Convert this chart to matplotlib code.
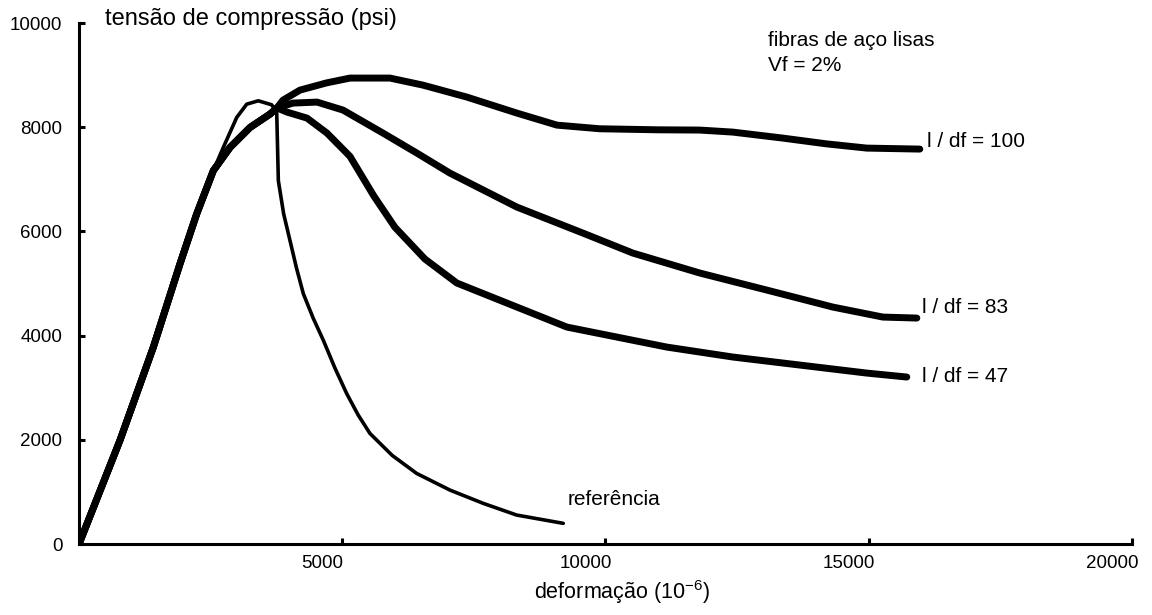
import matplotlib
matplotlib.use("Agg")
import matplotlib.pyplot as plt
from matplotlib.transforms import ScaledTranslation

plt.rcParams["font.family"] = ["Liberation Sans", "DejaVu Sans"]
plt.rcParams["mathtext.fontset"] = "custom"
plt.rcParams["mathtext.rm"] = "Liberation Sans"

# strain (10^-6) / stress (psi) readings for each curve
ref_x = [0, 779, 1412, 1918, 2235, 2551, 2741, 2995, 3185, 3405, 3660, 3755,
         3786, 3887, 4007, 4130, 4261, 4450, 4641, 4860, 5084, 5300, 5527,
         5950, 6413, 7046, 7679, 8313, 9198]
ref_y = [0, 1993, 3780, 5378, 6336, 7166, 7612, 8187, 8442, 8507, 8430, 8283,
         6974, 6336, 5826, 5300, 4803, 4330, 3909, 3380, 2888, 2480, 2121,
         1700, 1355, 1035, 780, 556, 397]

rise_x = [0, 779, 1412, 1918, 2235, 2551, 2868, 3248, 3628, 3760]
rise_y = [0, 1993, 3780, 5378, 6336, 7166, 7612, 7995, 8252, 8370]

f100_x = rise_x + [3875, 4197, 4700, 5147, 5906, 6532, 7367, 8317, 9077, 9893,
                   11000, 11792, 12419, 13368, 14200, 14963, 15970]
f100_y = rise_y + [8520, 8712, 8850, 8943, 8943, 8808, 8578, 8271, 8040, 7970,
                   7950, 7945, 7906, 7791, 7680, 7599, 7580]

f83_x = rise_x + [4064, 4520, 5014, 5774, 6418, 7045, 8317, 9571, 10520, 11792,
                  13064, 14318, 15268, 15914]
f83_y = rise_y + [8463, 8482, 8329, 7887, 7503, 7119, 6467, 5968, 5584, 5201,
                  4874, 4548, 4356, 4337]

f47_x = rise_x + [3950, 4330, 4710, 5147, 5600, 6000, 6570, 7177, 8317, 9267,
                  10216, 11165, 12419, 13691, 14963, 15723]
f47_y = rise_y + [8290, 8175, 7887, 7440, 6680, 6080, 5470, 5009, 4548, 4164,
                  3972, 3780, 3589, 3435, 3281, 3205]

x_ticks = [5000, 10000, 15000, 20000]
y_ticks = [0, 2000, 4000, 6000, 8000, 10000]

fig = plt.figure(figsize=(11.52, 6.15), dpi=100)
ax = fig.add_axes([0.0686, 0.1154, 0.914, 0.8472])

for xs, ys in [(f100_x, f100_y), (f83_x, f83_y), (f47_x, f47_y)]:
    ax.plot(xs, ys, color="black", lw=5, solid_capstyle="round", solid_joinstyle="round")
ax.plot(ref_x, ref_y, color="black", lw=2.6, solid_capstyle="round", solid_joinstyle="round")

ax.set_xlim(0, 20000)
ax.set_ylim(0, 10000)
ax.set_xticks(x_ticks)
ax.set_yticks(y_ticks)
ax.tick_params(direction="in", length=4, width=2.2, labelsize=13.5)
ax.tick_params(axis="y", pad=12)
ax.tick_params(axis="x", pad=8)
for side in ["top", "right"]:
    ax.spines[side].set_visible(False)
for side in ["left", "bottom"]:
    ax.spines[side].set_linewidth(2.2)

# x tick labels sit a little to the left of their ticks
shift = ScaledTranslation(-0.2, 0, fig.dpi_scale_trans)
for lbl in ax.get_xticklabels():
    lbl.set_transform(lbl.get_transform() + shift)

ax.set_xlabel(r"deformação ($\mathregular{10^{-6}}$)", fontsize=15.5)
ax.xaxis.set_label_coords(0.516, -0.066)

fs = 15
ax.text(494, 9963, "tensão de compressão (psi)", fontsize=17, va="baseline", clip_on=False)
ax.text(13085, 9561, "fibras de aço lisas", fontsize=fs, va="baseline")
ax.text(13085, 9082, "Vf = 2%", fontsize=fs, va="baseline")
ax.text(16105, 7626, "l / df = 100", fontsize=fs, va="baseline")
ax.text(16010, 4426, "l / df = 83", fontsize=fs, va="baseline")
ax.text(16010, 3104, "l / df = 47", fontsize=fs, va="baseline")
ax.text(9287, 747, "referência", fontsize=fs, va="baseline")

fig.savefig("out.png", dpi=100)
